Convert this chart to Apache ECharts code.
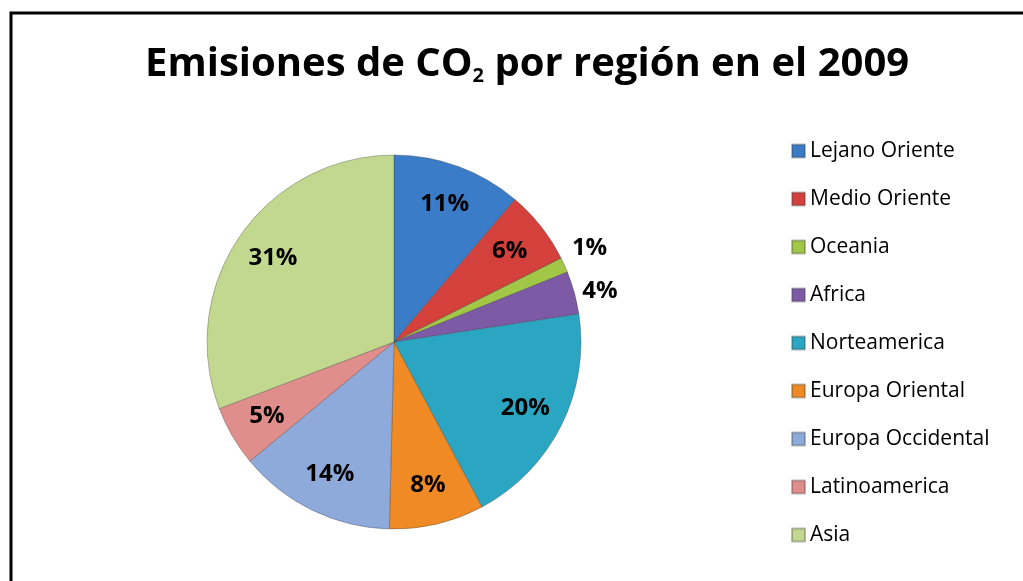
<!DOCTYPE html>
<html>
<head>
<meta charset="utf-8">
<script src="https://cdn.jsdelivr.net/npm/echarts@6/dist/echarts.min.js"></script>
<style>
  html, body { margin: 0; padding: 0; background: #fff; }
  #chart { width: 1023px; height: 581px; }
</style>
</head>
<body>
<div id="chart"></div>
<script>
let regiones = ['Lejano Oriente', 'Medio Oriente', 'Oceania', 'Africa', 'Norteamerica',
    'Europa Oriental', 'Europa Occidental', 'Latinoamerica', 'Asia'];
let emisiones = [11.2, 6.4, 1.3, 3.7, 19.6, 8.2, 13.6, 5.2, 30.8];
let colores = ['#3b7cc8', '#d4403c', '#a2c646', '#7d5aa6', '#2aa6c3',
    '#f08a25', '#8eaadb', '#e08e8b', '#c3d88f'];
// slices whose label sits outside the pie
let fuera = ['Oceania', 'Africa'];

let myChart = echarts.init(document.getElementById('chart'));

let data_pie = regiones.map(function (n, i) {
    return { name: n, value: emisiones[i], itemStyle: { color: colores[i] } };
});
let data_label = regiones.map(function (n, i) {
    let d = { name: n, value: emisiones[i] };
    if (fuera.indexOf(n) >= 0) {
        d.label = { position: 'outside', distanceToLabelLine: 2 };
        d.labelLine = { show: false, length: 6, length2: 0 };
        if (n === 'Oceania') d.label.offset = [0, -14];
    }
    return d;
});

let option = {
    animation: false,
    title: {
        text: 'Emisiones de CO{sub|2} por región en el 2009',
        left: 140,
        top: 39,
        textStyle: {
            fontFamily: 'Open Sans',
            fontWeight: 'bold',
            fontSize: 40,
            color: '#000',
            rich: {
                sub: {
                    fontFamily: 'Open Sans',
                    fontWeight: 'bold',
                    fontSize: 20,
                    color: '#000',
                    verticalAlign: 'bottom',
                    padding: [22, 0, 0, 0]
                }
            }
        }
    },
    legend: {
        orient: 'vertical',
        left: 786,
        top: 134,
        itemWidth: 13,
        itemHeight: 13,
        itemGap: 24,
        icon: 'rect',
        data: regiones,
        textStyle: { fontFamily: 'Open Sans', fontSize: 21, lineHeight: 24, color: '#000' }
    },
    graphic: [{
        type: 'rect',
        shape: { x: 11, y: 13, width: 1100, height: 700 },
        style: { fill: 'none', stroke: '#000', lineWidth: 3 }
    }],
    series: [{
        type: 'pie',
        center: [394, 342],
        radius: 187,
        startAngle: 90,
        clockwise: true,
        data: data_pie,
        label: { show: false },
        labelLine: { show: false },
        itemStyle: { borderColor: 'rgba(60,60,60,0.35)', borderWidth: 1 }
    }, {
        type: 'pie',
        center: [394, 342],
        radius: [101, 187],
        startAngle: 90,
        clockwise: true,
        silent: true,
        legendHoverLink: false,
        data: data_label,
        itemStyle: { color: 'rgba(0,0,0,0)' },
        label: {
            show: true,
            position: 'inside',
            formatter: function (p) { return Math.round(p.percent) + '%'; },
            fontFamily: 'Open Sans',
            fontWeight: 'bold',
            fontSize: 24,
            color: '#000'
        }
    }]
};

myChart.setOption(option);
</script>
</body>
</html>
